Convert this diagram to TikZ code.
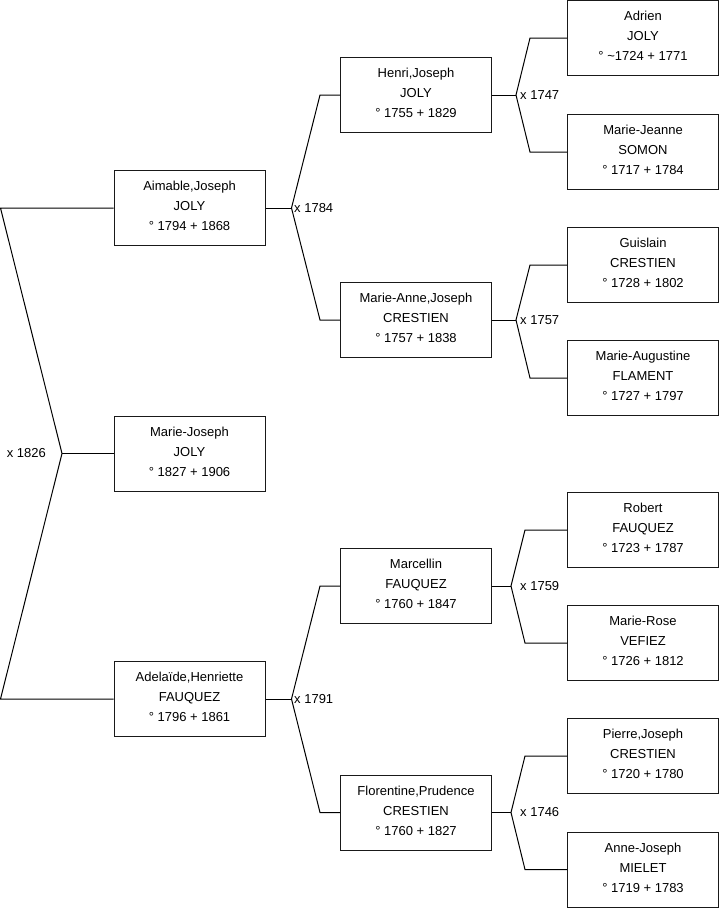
\documentclass[tikz,border=0pt]{standalone}
\usepackage{fontspec}
\setmainfont{Liberation Sans}
\begin{document}
\begin{tikzpicture}[x=1pt,y=-1pt,
  person/.style={draw=black!90, line width=1pt, minimum width=151pt, minimum height=75pt,
    inner sep=0pt, align=center, text depth=4pt, font=\fontsize{13}{20}\selectfont, fill=white},
  link/.style={draw=black, line width=1pt},
  marr/.style={inner sep=0pt, font=\fontsize{13}{15}\selectfont}]
\useasboundingbox (0,0) rectangle (719,908);
% column 1
\node[person] (aim) at (189.5,208) {Aimable,Joseph\\JOLY\\° 1794 + 1868};
\node[person] (mjo) at (189.5,453.5) {Marie-Joseph\\JOLY\\° 1827 + 1906};
\node[person] (ade) at (189.5,699) {Adelaïde,Henriette\\FAUQUEZ\\° 1796 + 1861};
% column 2
\node[person] (hen) at (416,95) {Henri,Joseph\\JOLY\\° 1755 + 1829};
\node[person] (man) at (416,320) {Marie-Anne,Joseph\\CRESTIEN\\° 1757 + 1838};
\node[person] (mar) at (416,586) {Marcellin\\FAUQUEZ\\° 1760 + 1847};
\node[person] (flo) at (416,812.5) {Florentine,Prudence\\CRESTIEN\\° 1760 + 1827};
% column 3
\node[person] (adr) at (643,38) {Adrien\\JOLY\\° \textasciitilde1724 + 1771};
\node[person] (mjn) at (643,152) {Marie-Jeanne\\SOMON\\° 1717 + 1784};
\node[person] (gui) at (643,265) {Guislain\\CRESTIEN\\° 1728 + 1802};
\node[person] (mau) at (643,378) {Marie-Augustine\\FLAMENT\\° 1727 + 1797};
\node[person] (rob) at (643,530) {Robert\\FAUQUEZ\\° 1723 + 1787};
\node[person] (mro) at (643,643) {Marie-Rose\\VEFIEZ\\° 1726 + 1812};
\node[person] (pie) at (643,756) {Pierre,Joseph\\CRESTIEN\\° 1720 + 1780};
\node[person] (ann) at (643,869.5) {Anne-Joseph\\MIELET\\° 1719 + 1783};
% junction coordinates
\coordinate (jr) at (62,453.5);
\coordinate (jrA) at (0.5,208);
\coordinate (jrB) at (0.5,699);
\coordinate (j1) at (291.5,208);
\coordinate (j1A) at (320,95);
\coordinate (j1B) at (320,320);
\coordinate (j2) at (291.5,699);
\coordinate (j2A) at (320,586);
\coordinate (j2B) at (320,812.5);
\coordinate (j3) at (516,95);
\coordinate (j3A) at (530,38);
\coordinate (j3B) at (530,152);
\coordinate (j4) at (516,320);
\coordinate (j4A) at (530,265);
\coordinate (j4B) at (530,378);
\coordinate (j5) at (511,586);
\coordinate (j5A) at (525,530);
\coordinate (j5B) at (525,643);
\coordinate (j6) at (511,812.5);
\coordinate (j6A) at (525,756);
\coordinate (j6B) at (525,869.5);
% connectors
\draw[link] (mjo.west) -- (jr);
\draw[link] (aim.west) -- (jrA) -- (jr) -- (jrB) -- (ade.west);
\draw[link] (aim.east) -- (j1);
\draw[link] (hen.west) -- (j1A) -- (j1) -- (j1B) -- (man.west);
\draw[link] (ade.east) -- (j2);
\draw[link] (mar.west) -- (j2A) -- (j2) -- (j2B) -- (flo.west);
\draw[link] (hen.east) -- (j3);
\draw[link] (adr.west) -- (j3A) -- (j3) -- (j3B) -- (mjn.west);
\draw[link] (man.east) -- (j4);
\draw[link] (gui.west) -- (j4A) -- (j4) -- (j4B) -- (mau.west);
\draw[link] (mar.east) -- (j5);
\draw[link] (rob.west) -- (j5A) -- (j5) -- (j5B) -- (mro.west);
\draw[link] (flo.east) -- (j6);
\draw[link] (pie.west) -- (j6A) -- (j6) -- (j6B) -- (ann.west);
% marriage labels
\node[marr, anchor=east] (m0) at (46,453.5) {x 1826};
\node[marr, anchor=west] (m1) at (294,208) {x 1784};
\node[marr, anchor=west] (m2) at (294,699) {x 1791};
\node[marr, anchor=west] (m3) at (520,95) {x 1747};
\node[marr, anchor=west] (m4) at (520,320) {x 1757};
\node[marr, anchor=west] (m5) at (520,586) {x 1759};
\node[marr, anchor=west] (m6) at (520,812.5) {x 1746};
\end{tikzpicture}
\end{document}
